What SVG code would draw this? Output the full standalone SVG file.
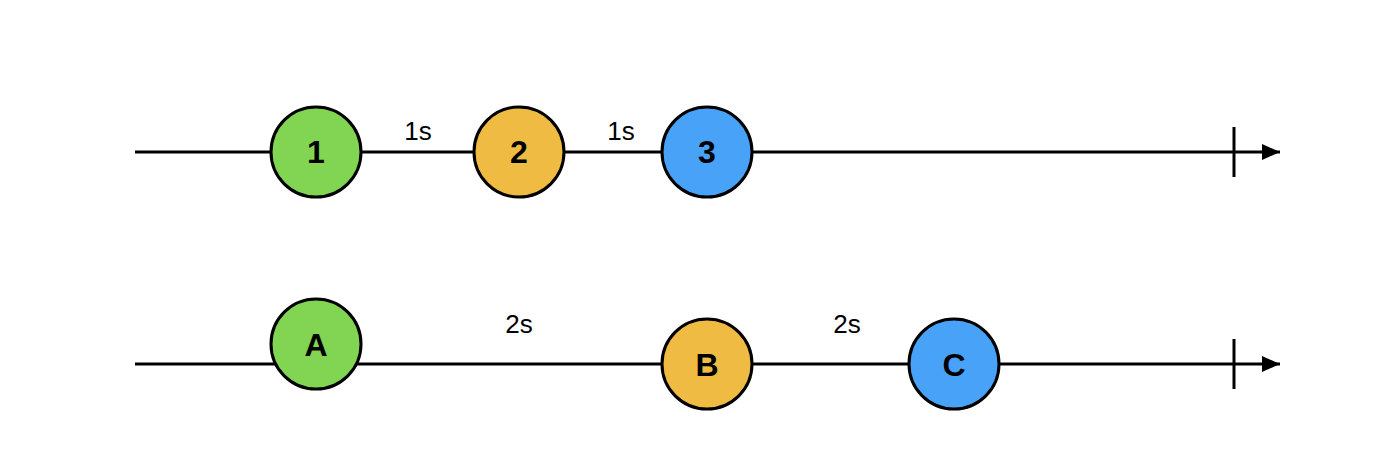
<svg xmlns="http://www.w3.org/2000/svg" width="1400" height="462" viewBox="0 0 1400 462">
<defs>
<style>
.line{stroke:#000;stroke-width:3;fill:none}
.tick{stroke:#000;stroke-width:3}
.node{stroke:#000;stroke-width:3}
.green{fill:#82D552}
.yellow{fill:#EFBB42}
.blue{fill:#48A2F8}
.nl{font-family:"Liberation Sans",Arial,sans-serif;font-size:32px;font-weight:bold;text-anchor:middle;fill:#000}
.lbl{font-family:"Liberation Sans",Arial,sans-serif;font-size:26px;text-anchor:middle;fill:#000}
</style>
<marker id="arr" viewBox="0 0 18 16" refX="18" refY="8" markerWidth="18" markerHeight="16" markerUnits="userSpaceOnUse" orient="auto">
<path d="M0,0 L18,8 L0,16 Z" fill="#000"/>
</marker>
</defs>
<rect width="1400" height="462" fill="#fff"/>
<g id="connectors">
<line class="line" x1="135" y1="152" x2="1280" y2="152" marker-end="url(#arr)"/>
<line class="tick" x1="1234" y1="127" x2="1234" y2="177"/>
<line class="line" x1="135" y1="364" x2="1280" y2="364" marker-end="url(#arr)"/>
<line class="tick" x1="1234" y1="339" x2="1234" y2="389"/>
<text class="lbl" x="418" y="140">1s</text>
<text class="lbl" x="621" y="140">1s</text>
<text class="lbl" x="519" y="333">2s</text>
<text class="lbl" x="847" y="333">2s</text>
</g>
<g id="n1"><circle class="node green" cx="316" cy="152" r="45"/><text class="nl" x="316" y="163">1</text></g>
<g id="n2"><circle class="node yellow" cx="519" cy="152" r="45"/><text class="nl" x="519" y="163">2</text></g>
<g id="n3"><circle class="node blue" cx="707" cy="152" r="45"/><text class="nl" x="707" y="163">3</text></g>
<g id="nA"><circle class="node green" cx="316" cy="344" r="45"/><text class="nl" x="316" y="356">A</text></g>
<g id="nB"><circle class="node yellow" cx="707" cy="364" r="45"/><text class="nl" x="707" y="376">B</text></g>
<g id="nC"><circle class="node blue" cx="954" cy="364" r="45"/><text class="nl" x="954" y="376">C</text></g>
</svg>
